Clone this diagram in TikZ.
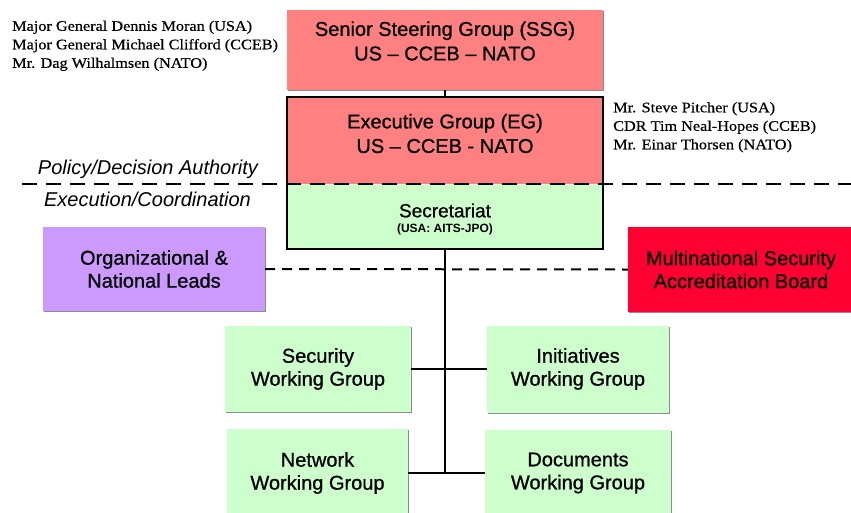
\documentclass[tikz,border=0pt]{standalone}
\usepackage{fontspec}
\setmainfont{Liberation Sans}
\newfontfamily\boxfont[FakeBold=0.9,Ligatures=TeX]{Liberation Sans}
\newfontfamily\namefont[FakeStretch=1.12,FakeBold=0.5]{Liberation Serif}
\usepackage{tikz}
\usetikzlibrary{shadows}
\definecolor{ssgred}{HTML}{FF8080}
\definecolor{wggreen}{HTML}{CCFFCC}
\definecolor{leadpurple}{HTML}{CC99FF}
\definecolor{msabred}{HTML}{FF0033}
\tikzset{
  box/.style={rectangle, inner sep=0pt, align=center, font=\boxfont\fontsize{20}{23}\selectfont,
              drop shadow={shadow xshift=1.3pt, shadow yshift=-1.3pt, fill=black!45, opacity=1}},
  ssgbox/.style={box, fill=ssgred},
  wgbox/.style={box, fill=wggreen},
  leadbox/.style={box, fill=leadpurple},
  msabbox/.style={box, fill=msabred},
  plainbox/.style={rectangle, inner sep=0pt},
  boxtext/.style={align=center, inner sep=0pt, font=\boxfont\fontsize{20}{24.5}\selectfont},
  names/.style={anchor=north west, inner sep=0pt, align=left, font=\namefont\fontsize{14.5}{18.5}\selectfont},
  tier/.style={inner sep=0pt, font=\itshape\fontsize{20}{22}\selectfont},
  link/.style={draw=black, line width=2.4pt},
  divider/.style={draw=black, line width=2.5pt, dash pattern=on 15pt off 9pt},
  liaison/.style={draw=black, line width=2pt, dash pattern=on 10pt off 7pt},
}

\begin{document}
\begin{tikzpicture}[x=1pt,y=-1pt]
\useasboundingbox (0,0) rectangle (851,512);
\fill[white] (0,0) rectangle (851,512);

% top of the structure
\node[ssgbox, minimum width=316pt, minimum height=80pt] (ssg) at (445,50) {};
\node[boxtext] (ssgtext) at (445,41) {Senior Steering Group (SSG)\\US – CCEB – NATO};

\node[plainbox, fill=ssgred,  minimum width=316pt, minimum height=87pt] (eg)  at (445,140.5) {};
\node[plainbox, fill=wggreen, minimum width=316pt, minimum height=65pt] (sec) at (445,216.5) {};
\draw[line width=2.5pt] (eg.north west) rectangle (sec.south east);
\node[boxtext] (egtext) at (445,133.5) {Executive Group (EG)\\US – CCEB - NATO};
\node[inner sep=0pt, font=\boxfont\fontsize{19}{20}\selectfont] (sectext) at (445,210.5) {Secretariat};
\node[inner sep=0pt, font=\bfseries\fontsize{12}{12}\selectfont] (secsub) at (445,229.5) {(USA: AITS-JPO)};

\node[names] (ssgnames) at (12,20.5) {Major General Dennis Moran (USA)\\Major General Michael Clifford (CCEB)\\Mr. Dag Wilhalmsen (NATO)};
\node[names] (egnames) at (613,102) {Mr. Steve Pitcher (USA)\\CDR Tim Neal-Hopes (CCEB)\\Mr. Einar Thorsen (NATO)};

% authority split
\coordinate (divL) at (22,184);
\coordinate (divR) at (851,184);
\draw[divider] (divL) -- (divR);
\node[tier] (policy) at (148,169.5) {Policy/Decision Authority};
\node[tier] (exec)   at (147.5,199) {Execution/Coordination};

% side bodies
\node[leadbox, minimum width=222pt, minimum height=84pt] (leads) at (154,269) {Organizational \&\\National Leads};
\node[msabbox, minimum width=226pt, minimum height=85pt] (msab)  at (741,269.5) {Multinational Security\\Accreditation Board};

% working groups
\node[wgbox, minimum width=186pt, minimum height=86pt] (secwg) at (318,369)   {Security\\Working Group};
\node[wgbox, minimum width=182pt, minimum height=87pt] (iniwg) at (578,369)   {Initiatives\\Working Group};
\node[wgbox, minimum width=181pt, minimum height=88pt] (netwg) at (317.5,473) {Network\\Working Group};
\node[wgbox, minimum width=186pt, minimum height=86pt] (docwg) at (578,473)   {Documents\\Working Group};

\draw[link] (ssg.south) -- (eg.north);
\draw[link] (sec.south) -- (sec.south |- netwg.east);
\draw[link] (secwg.east) -- (iniwg.west);
\draw[link] (netwg.east) -- (docwg.west);
\draw[liaison] (leads.east) -- (msab.west);
\end{tikzpicture}
\end{document}
